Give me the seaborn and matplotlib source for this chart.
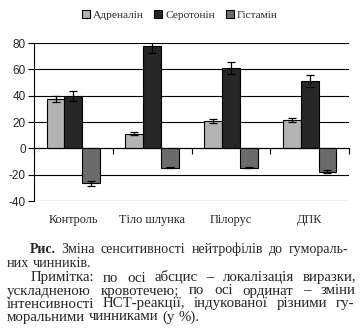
import matplotlib
matplotlib.use('Agg')
import matplotlib.pyplot as plt
import seaborn as sns
import pandas as pd
import numpy as np

categories = ['Контроль', 'Тіло шлунка', 'Пілорус', 'ДПК']
series = ['Адреналін', 'Серотонін', 'Гістамін']
adrenaline = [37.5, 11.2, 20.7, 21.4]
adrenaline_err = [2.5, 1.0, 1.5, 1.5]
serotonin = [39.8, 77.8, 61.0, 51.2]
serotonin_err = [4.0, 5.5, 4.6, 4.6]
histamine = [-26.7, -14.6, -14.6, -17.6]
histamine_err = [1.6, 0.4, 0.4, 1.0]
y_ticks = [-40, -20, 0, 20, 40, 60, 80]
colors = ['#b3b3b3', '#262626', '#6b6b6b']

caption_lines = [
    [('Рис.', 'bold'), ' Зміна сенситивності нейтрофілів до гумораль-'],
    'них чинників.',
    'Примітка: по осі абсцис – локалізація виразки,',
    'ускладненою кровотечею; по осі ординат – зміни',
    'інтенсивності НСТ-реакції, індукованої різними гу-',
    'моральними чинниками (у %).',
]

sns.set_theme(style='white')
plt.rcParams['font.family'] = ['Liberation Serif', 'DejaVu Serif']

W, H = 363, 333
fig = plt.figure(figsize=(W / 100, H / 100), dpi=100)
ax = fig.add_axes([34 / W, 1 - 201 / H, (349 - 34) / W, (201 - 43) / H])

vals = [adrenaline, serotonin, histamine]
errs = [adrenaline_err, serotonin_err, histamine_err]
rows = []
for s, v in zip(series, vals):
    for c, x in zip(categories, v):
        rows.append({'cat': c, 'val': x, 'ser': s})
df = pd.DataFrame(rows)

sns.barplot(data=df, x='cat', y='val', hue='ser', order=categories,
            hue_order=series, palette=colors, width=0.68, gap=0,
            errorbar=None, edgecolor='black', linewidth=0.8, ax=ax,
            saturation=1)

for cont, v, e in zip(ax.containers, vals, errs):
    xs = [p.get_x() + p.get_width() / 2 for p in cont.patches]
    ax.errorbar(xs, v, yerr=e, fmt='none', ecolor='black', elinewidth=0.9,
                capsize=3, capthick=0.9, zorder=5)

for s in ['top', 'right']:
    ax.spines[s].set_visible(False)
ax.spines['left'].set_color('black')
ax.spines['left'].set_linewidth(0.8)
ax.spines['bottom'].set_position(('data', 0))
ax.spines['bottom'].set_color('black')
ax.spines['bottom'].set_linewidth(0.8)
ax.spines['bottom'].set_zorder(6)

ax.set_ylim(-40, 80)
ax.set_xlim(-0.5, 3.5)
ax.set_yticks(y_ticks)
ax.set_yticklabels([str(t) for t in y_ticks])
ax.yaxis.grid(True, color='black', linewidth=0.8)
ax.set_axisbelow(True)
ax.tick_params(axis='y', left=True, length=4, width=0.8, color='black', pad=2,
               direction='out', labelsize=8.5, labelfontfamily='Liberation Sans')

ax.set_xticks(range(len(categories)))
ax.set_xticklabels(categories)
ax.set_xticks([-0.5, 0.5, 1.5, 2.5, 3.5], minor=True)
ax.tick_params(axis='x', which='major', length=0, pad=47, labelsize=8.8)
ax.tick_params(axis='x', which='minor', bottom=True, length=4, width=0.8, color='black', direction='out')
ax.set_xlabel('')
ax.set_ylabel('')

handles, labels = ax.get_legend_handles_labels()
ax.get_legend().remove()
fig.legend(handles, labels, loc='center', bbox_to_anchor=(180 / W, 1 - 15 / H),
           ncol=3, frameon=False, fontsize=8.2, handlelength=0.7, handleheight=0.7,
           handletextpad=0.3, columnspacing=0.9)

# caption
fig.canvas.draw()
renderer = fig.canvas.get_renderer()


def width_of(t):
    return t.get_window_extent(renderer=renderer).width


def mtext(txt, fs, wt='normal'):
    return fig.text(0, 0, txt, fontsize=fs, fontweight=wt, va='baseline', ha='left')


def place_line(tokens, x0, x1, y, justify, fs):
    texts = []
    widths = []
    for word in tokens:
        parts = []
        w = 0
        for txt, wt in word:
            t = mtext(txt, fs, wt)
            ww = width_of(t)
            parts.append((t, ww))
            w += ww
        texts.append(parts)
        widths.append(w)
    a = mtext('a a', fs)
    b = mtext('aa', fs)
    space = width_of(a) - width_of(b)
    a.remove()
    b.remove()
    if justify and len(tokens) > 1:
        gap = (x1 - x0 - sum(widths)) / (len(tokens) - 1)
    else:
        gap = space
    x = x0
    for parts, w in zip(texts, widths):
        xx = x
        for t, ww in parts:
            t.set_position((xx / W, 1 - y / H))
            xx += ww
        x += w + gap


def tokenize(line):
    if isinstance(line, str):
        return [[(w, 'normal')] for w in line.split()]
    first = [line[0]]
    rest = line[1].split()
    return [first] + [[(w, 'normal')] for w in rest]


specs = [(30, 348, 253, True, 10), (7, 355, 267, False, 10.2),
         (31, 356, 281.5, True, 10.7), (7, 355, 294.5, True, 10.7),
         (7, 354, 307.5, True, 10.7), (7, 355, 320.5, False, 10.7)]
for line, (x0, x1, y, j, fs) in zip(caption_lines, specs):
    place_line(tokenize(line), x0, x1, y, j, fs)

fig.savefig('out.png', dpi=100)
